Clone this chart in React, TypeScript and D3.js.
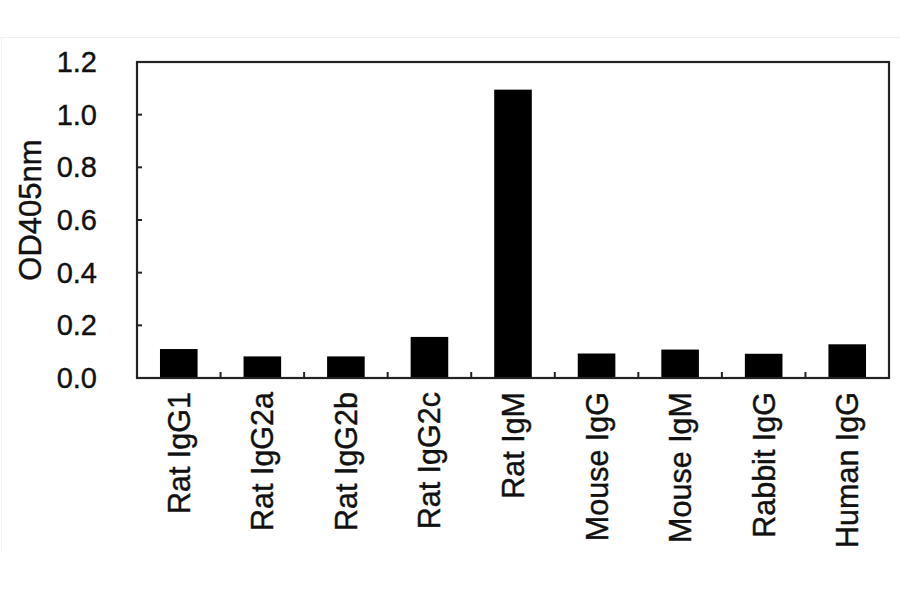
import React from "react";
import * as d3 from "d3";

const categories = ["Rat IgG1", "Rat IgG2a", "Rat IgG2b", "Rat IgG2c", "Rat IgM", "Mouse IgG", "Mouse IgM", "Rabbit IgG", "Human IgG"];
const values = [0.11, 0.082, 0.082, 0.156, 1.095, 0.093, 0.108, 0.092, 0.128];
const yTicks = [0, 0.2, 0.4, 0.6, 0.8, 1.0, 1.2];
const yTitle = "OD405nm";

const W = 900, H = 594;
const left = 137, right = 889, top = 62, bottom = 378;

export default function App() {
  const x = d3.scaleBand<string>().domain(categories).range([left, right]).paddingInner(0.55).paddingOuter(0.275);
  const xb = d3.scaleBand<string>().domain(categories).range([left, right]);
  const y = d3.scaleLinear().domain([0, 1.2]).range([bottom, top]);
  const font = "'Liberation Sans', Arial, sans-serif";
  const textStyle = { stroke: "#111", strokeWidth: 0.4 };
  return (
    <div style={{ position: "absolute", left: 0, top: 0 }}>
      <svg width={W} height={H} style={{ display: "block", background: "#fff" }}>
        <line x1={0} x2={W} y1={37.5} y2={37.5} stroke="#efefef" strokeWidth={1} />
        <line x1={1.5} x2={1.5} y1={37} y2={553} stroke="#f0f0f0" strokeWidth={1} />
        {categories.map((c, i) => (
          <rect key={c} x={x(c)} width={x.bandwidth()} y={y(values[i])} height={y(0) - y(values[i])} fill="#000" />
        ))}
        <rect x={left} y={top} width={right - left} height={bottom - top} fill="none" stroke="#222" strokeWidth={2.2} />
        {yTicks.filter(t => t > 0 && t < 1.2).map(t => (
          <line key={t} x1={left} x2={left + 5} y1={y(t)} y2={y(t)} stroke="#222" strokeWidth={2} />
        ))}
        {categories.slice(1).map(c => (
          <line key={c} x1={xb(c)} x2={xb(c)} y1={bottom} y2={bottom - 6} stroke="#222" strokeWidth={2} />
        ))}
        {yTicks.map(t => (
          <text key={t} x={97} y={y(t)} textAnchor="end" dominantBaseline="central" fontFamily={font} fontSize={29} fill="#111" style={textStyle}>
            {t.toFixed(1)}
          </text>
        ))}
        {categories.map(c => {
          const cx = (xb(c) as number) + xb.bandwidth() / 2;
          return (
            <text key={c} transform={`translate(${cx},${392}) rotate(-90)`} textAnchor="end" dominantBaseline="central" fontFamily={font} fontSize={30.5} fill="#111" style={textStyle}>
              {c}
            </text>
          );
        })}
        <text transform={`translate(${30},${210}) rotate(-90)`} textAnchor="middle" dominantBaseline="central" fontFamily={font} fontSize={31} fill="#111" style={textStyle}>
          {yTitle}
        </text>
      </svg>
    </div>
  );
}
